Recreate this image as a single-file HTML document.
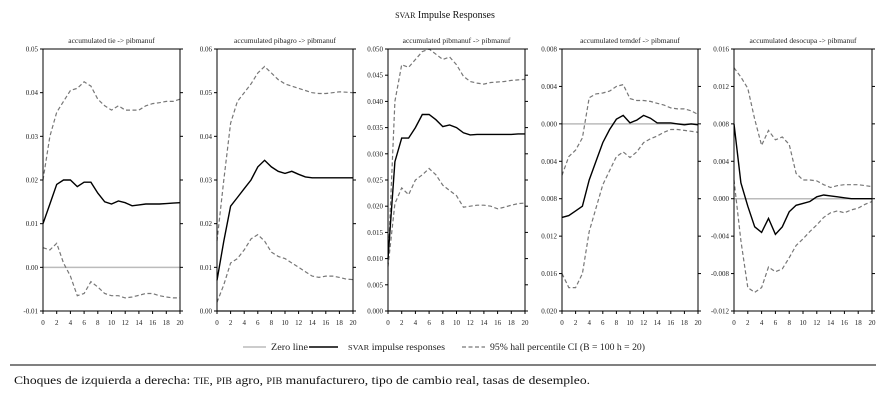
<!DOCTYPE html>
<html><head><meta charset="utf-8">
<style>
body{margin:0;background:#fff;width:889px;height:404px;overflow:hidden;font-family:"Liberation Serif",serif;}
svg{position:absolute;left:0;top:0}
</style></head>
<body>
<svg id="chart" width="889" height="404">
<text x="445" y="18" text-anchor="middle" font-size="10" fill="#111"><tspan font-size="8">SVAR</tspan> Impulse Responses</text>
<g id="panels"></g>
<g>
<line x1="243" y1="347" x2="266" y2="347" stroke="#bbb" stroke-width="1.5"/>
<text x="271" y="350" font-size="9" fill="#222" textLength="37" lengthAdjust="spacingAndGlyphs">Zero line</text>
<line x1="309" y1="347" x2="338" y2="347" stroke="#000" stroke-width="1.5"/>
<text x="348" y="350" font-size="9" fill="#222" textLength="97" lengthAdjust="spacingAndGlyphs"><tspan font-size="7.5">SVAR</tspan> impulse responses</text>
<line x1="462" y1="347" x2="485" y2="347" stroke="#777" stroke-width="1.3" stroke-dasharray="4,2.5"/>
<text x="490" y="350" font-size="9" fill="#222" textLength="155" lengthAdjust="spacingAndGlyphs">95% hall percentile CI (B = 100 h = 20)</text>
</g>
<line x1="10" y1="365" x2="876" y2="365" stroke="#000" stroke-width="1"/>
<text x="14" y="384" font-size="12" fill="#111" textLength="576" lengthAdjust="spacingAndGlyphs">Choques de izquierda a derecha: <tspan font-size="9">TIE</tspan>, <tspan font-size="9">PIB</tspan> agro, <tspan font-size="9">PIB</tspan> manufacturero, tipo de cambio real, tasas de desempleo.</text>
</svg>
<script>
const titles=["accumulated tie -> pibmanuf","accumulated pibagro -> pibmanuf","accumulated pibmanuf -> pibmanuf","accumulated temdef -> pibmanuf","accumulated desocupa -> pibmanuf"];
const horizons=[0,1,2,3,4,5,6,7,8,9,10,11,12,13,14,15,16,17,18,19,20];
const xTicks=[0,2,4,6,8,10,12,14,16,18,20];
const irf1=[0.010,0.0145,0.019,0.020,0.020,0.0185,0.0195,0.0195,0.017,0.015,0.0145,0.0152,0.0148,0.0141,0.0143,0.0145,0.0145,0.0145,0.0146,0.0147,0.0148];
const up1=[0.020,0.030,0.0355,0.038,0.0405,0.041,0.0425,0.0415,0.0385,0.037,0.036,0.037,0.036,0.036,0.036,0.037,0.0375,0.0377,0.038,0.038,0.0385];
const lo1=[0.0045,0.004,0.0055,0.001,-0.002,-0.0065,-0.006,-0.0033,-0.0045,-0.006,-0.0065,-0.0065,-0.007,-0.0068,-0.0064,-0.006,-0.006,-0.0065,-0.0068,-0.007,-0.007];
const irf2=[0.007,0.016,0.024,0.026,0.028,0.030,0.033,0.0345,0.033,0.032,0.0315,0.032,0.0313,0.0307,0.0305,0.0305,0.0305,0.0305,0.0305,0.0305,0.0305];
const up2=[0.016,0.030,0.043,0.048,0.050,0.052,0.0545,0.056,0.0545,0.053,0.052,0.0515,0.051,0.0505,0.050,0.0498,0.0498,0.050,0.0502,0.0501,0.050];
const lo2=[0.002,0.006,0.011,0.012,0.014,0.0165,0.0175,0.016,0.0135,0.0125,0.012,0.011,0.010,0.009,0.008,0.0077,0.008,0.008,0.0077,0.0073,0.0072];
const irf3=[0.010,0.0285,0.033,0.033,0.035,0.0375,0.0375,0.0365,0.0352,0.0355,0.035,0.034,0.0336,0.0337,0.0337,0.0337,0.0337,0.0337,0.0337,0.0338,0.0338];
const up3=[0.009,0.040,0.047,0.0465,0.048,0.0495,0.050,0.049,0.048,0.0485,0.047,0.0448,0.0438,0.0435,0.0433,0.0436,0.0437,0.0438,0.044,0.0441,0.0442];
const lo3=[0.0085,0.0205,0.0235,0.0222,0.025,0.026,0.0272,0.026,0.024,0.023,0.022,0.0198,0.020,0.0202,0.0202,0.020,0.0195,0.0198,0.0202,0.0205,0.0206];
const irf4=[-0.010,-0.0098,-0.0093,-0.0088,-0.006,-0.004,-0.002,-0.0006,0.0005,0.0009,0.0001,0.0004,0.0009,0.0006,0.0001,0.0001,0.0001,0,-0.0001,0,-0.0001];
const up4=[-0.0055,-0.0035,-0.0028,-0.0015,0.0028,0.0032,0.0033,0.0035,0.004,0.0042,0.0027,0.0025,0.0025,0.0024,0.0022,0.002,0.0017,0.0016,0.0016,0.0014,0.001];
const lo4=[-0.016,-0.0175,-0.0175,-0.016,-0.0115,-0.009,-0.0065,-0.005,-0.0035,-0.003,-0.0036,-0.003,-0.002,-0.0016,-0.0013,-0.0009,-0.0006,-0.0006,-0.0007,-0.0008,-0.0009];
const irf5=[0.008,0.0017,-0.0008,-0.003,-0.0036,-0.0021,-0.0038,-0.003,-0.0014,-0.0007,-0.0005,-0.0003,0.0002,0.0004,0.0003,0.0002,0.0001,0,0,0,0];
const up5=[0.014,0.013,0.0118,0.0085,0.0057,0.0073,0.0063,0.0066,0.0058,0.0027,0.002,0.002,0.0019,0.0015,0.0012,0.0014,0.0015,0.0015,0.0015,0.0014,0.0013];
const lo5=[0.002,-0.0045,-0.0095,-0.010,-0.0095,-0.0073,-0.0078,-0.0075,-0.0063,-0.005,-0.0043,-0.0035,-0.0028,-0.002,-0.0015,-0.0013,-0.0015,-0.0012,-0.001,-0.0006,-0.0003];
const yTicks1=[-0.01,0,0.01,0.02,0.03,0.04,0.05];
const yLabels1=["-0.01","0.00","0.01","0.02","0.03","0.04","0.05"];
const yTicks2=[0,0.01,0.02,0.03,0.04,0.05,0.06];
const yLabels2=["0.00","0.01","0.02","0.03","0.04","0.05","0.06"];
const yTicks3=[0,0.005,0.01,0.015,0.02,0.025,0.03,0.035,0.04,0.045,0.05];
const yLabels3=["0.000","0.005","0.010","0.015","0.020","0.025","0.030","0.035","0.040","0.045","0.050"];
const yTicks4=[-0.02,-0.016,-0.012,-0.008,-0.004,0,0.004,0.008];
const yLabels4=["0.020","0.016","0.012","0.008","0.004","0.000","0.004","0.008"];
const yTicks5=[-0.012,-0.008,-0.004,0,0.004,0.008,0.012,0.016];
const yLabels5=["-0.012","-0.008","-0.004","0.000","0.004","0.008","0.012","0.016"];

const NS="http://www.w3.org/2000/svg";
const root=document.getElementById('panels');
const boxes=[[43,180],[217,353],[388,525],[562,698],[734,872]];
const plotTop=49,plotBot=311;
const panels=[[irf1,up1,lo1,yTicks1,yLabels1],[irf2,up2,lo2,yTicks2,yLabels2],[irf3,up3,lo3,yTicks3,yLabels3],[irf4,up4,lo4,yTicks4,yLabels4],[irf5,up5,lo5,yTicks5,yLabels5]];
function mk(tag,attrs){const e=document.createElementNS(NS,tag);for(const k in attrs)e.setAttribute(k,attrs[k]);return e;}
panels.forEach((p,i)=>{
  const [irf,up,lo,yt,yl]=p;const [L,R]=boxes[i];
  const ymin=yt[0],ymax=yt[yt.length-1];
  const X=h=>L+(h-horizons[0])/(horizons[horizons.length-1]-horizons[0])*(R-L);
  const Y=v=>plotBot-(v-ymin)/(ymax-ymin)*(plotBot-plotTop);
  const g=mk('g',{});
  
  
  root.appendChild(g);
  const t=mk('text',{x:(L+R)/2,y:43,'text-anchor':'middle','font-size':'7.5',fill:'#222'});t.textContent=titles[i];
  
  
  g.appendChild(t);
  const z=mk('line',{x1:L,x2:R,y1:Y(0),y2:Y(0),stroke:'#bbb','stroke-width':1.5});
  
  
  g.appendChild(z);
  const path=(arr)=>arr.map((v,k)=>(k?'L':'M')+X(horizons[k]).toFixed(1)+','+Y(v).toFixed(1)).join('');
  const pu=mk('path',{d:path(up),fill:'none',stroke:'#777','stroke-width':1.2,'stroke-dasharray':'4,2.5'});
  
  
  g.appendChild(pu);
  const pl=mk('path',{d:path(lo),fill:'none',stroke:'#777','stroke-width':1.2,'stroke-dasharray':'4,2.5'});
  
  
  g.appendChild(pl);
  const pi=mk('path',{d:path(irf),fill:'none',stroke:'#000','stroke-width':1.4});
  
  
  g.appendChild(pi);
  const box=mk('rect',{x:L,y:plotTop,width:R-L,height:plotBot-plotTop,fill:'none',stroke:'#000','stroke-width':1});
  
  
  g.appendChild(box);
  yt.forEach((v,k)=>{
    const y=Y(v);
    g.appendChild(mk('line',{x1:L-3,x2:L,y1:y,y2:y,stroke:'#000','stroke-width':1}));
    g.appendChild(mk('line',{x1:R,x2:R+3,y1:y,y2:y,stroke:'#000','stroke-width':1}));
    const tx=mk('text',{x:L-5,y:y+2.5,'text-anchor':'end','font-size':'7',fill:'#222'});tx.textContent=yl[k];
    
    
    g.appendChild(tx);
  });
  xTicks.forEach(h=>{
    const x=X(h);
    g.appendChild(mk('line',{x1:x,x2:x,y1:plotBot,y2:plotBot+3,stroke:'#000','stroke-width':1}));
    const tx=mk('text',{x:x,y:325,'text-anchor':'middle','font-size':'7',fill:'#222'});tx.textContent=h;
    
    
    g.appendChild(tx);
  });
});
</script>
</body></html>
